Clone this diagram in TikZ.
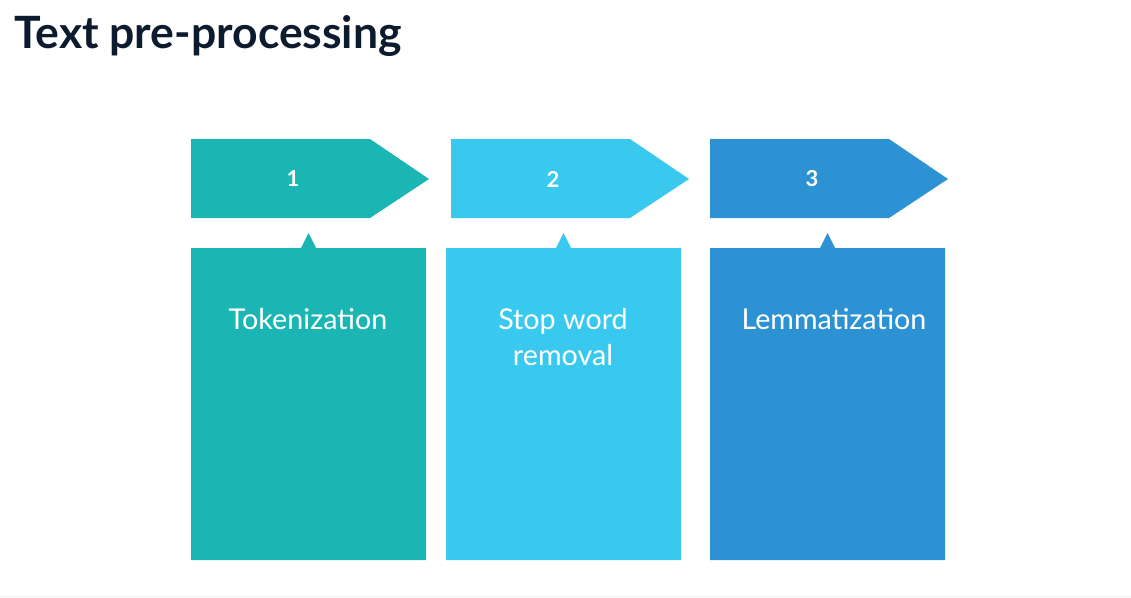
\documentclass[tikz,border=0pt]{standalone}
\usepackage{fontspec}
\setmainfont{Lato}
\usepackage{tikz}
\usetikzlibrary{positioning}

\definecolor{stepteal}{HTML}{1BB5B3}
\definecolor{stepsky}{HTML}{3AC9EE}
\definecolor{stepblue}{HTML}{2D92D4}
\definecolor{titlenavy}{HTML}{0C1B2E}

\begin{document}
\begin{tikzpicture}[
  x=1pt, y=-1pt,
  title/.style={anchor=base west, inner sep=0pt, text=titlenavy, font=\fontsize{44.5}{50}\selectfont\bfseries},
  number/.style={inner sep=0pt, text=white, font=\fontsize{22}{24}\selectfont\bfseries},
  stage/.style={anchor=base, inner sep=0pt, align=center, text=white, font=\fontsize{28.7}{36}\selectfont},
  baseline/.style={draw=black!7, line width=1pt}
]
  \useasboundingbox (0,0) rectangle (1131,597);

  % Title
  \node[title] (title) at (14,48) {Text pre-processing};

  % Step headers - arrow shaped, one per stage
  \fill[stepteal] (191,139) -- (370,139) -- (429,179) -- (370,218) -- (191,218) -- cycle;
  \fill[stepsky]  (451,139) -- (630,139) -- (689,179) -- (630,218) -- (451,218) -- cycle;
  \fill[stepblue] (710,139) -- (889,139) -- (948,179) -- (889,218) -- (710,218) -- cycle;

  \node[number] (n1) at (293,179) {1};
  \node[number] (n2) at (553,179) {2};
  \node[number] (n3) at (812,179) {3};

  % Stage panels with a small pointer up to the header
  \fill[stepteal] (191,248) -- (301,248) -- (308.5,233) -- (316,248) -- (426,248) -- (426,560) -- (191,560) -- cycle;
  \fill[stepsky]  (446,248) -- (556,248) -- (563.5,233) -- (571,248) -- (681,248) -- (681,560) -- (446,560) -- cycle;
  \fill[stepblue] (710,248) -- (820,248) -- (827.5,233) -- (835,248) -- (945,248) -- (945,560) -- (710,560) -- cycle;

  \node[stage] (tok) at (308,329) {Tokenization};
  \node[stage] (stop) at (563,365) {Stop word\\removal};
  \node[stage] (lem) at (834,329) {Lemmatization};

  % faint rule along the bottom edge
  \draw[baseline] (0,596) -- (1131,596);
\end{tikzpicture}
\end{document}
